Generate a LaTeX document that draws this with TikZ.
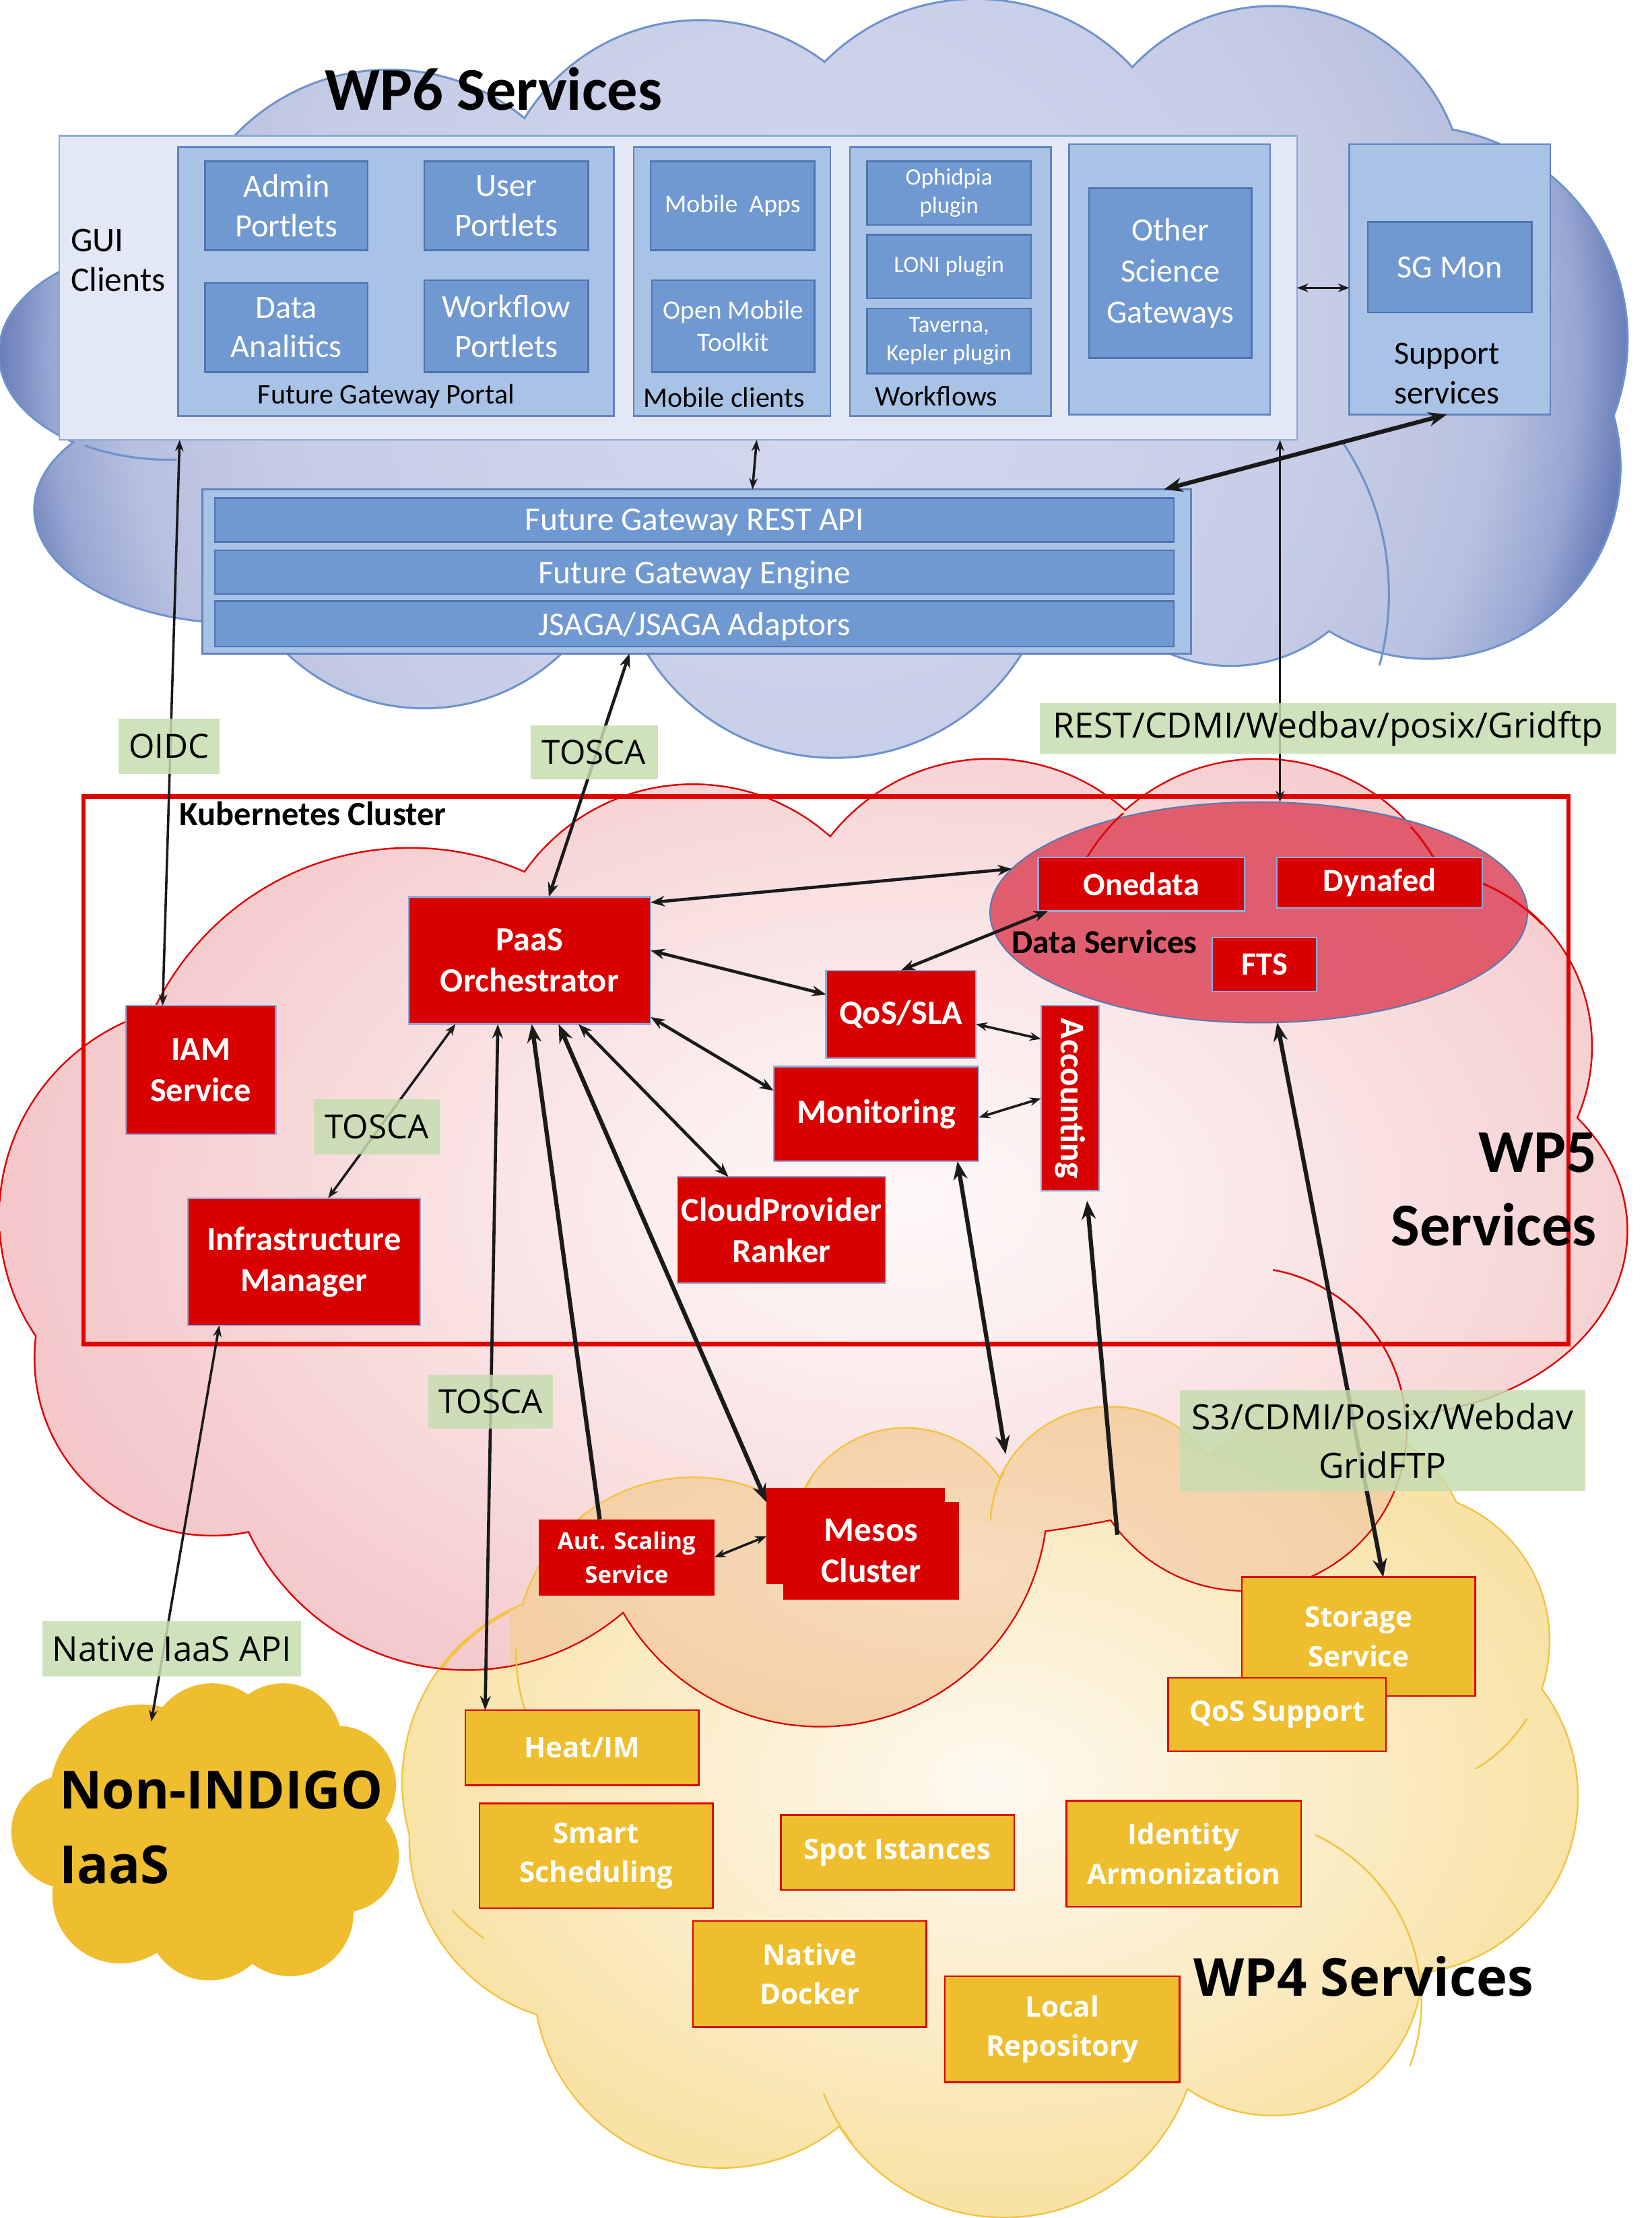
\documentclass[tikz,border=0pt]{standalone}
\usepackage{fontspec}
\setmainfont{Carlito}
\newfontfamily\osans{Open Sans}
\usetikzlibrary{arrows.meta,shapes.geometric}
\definecolor{bline}{HTML}{6E93CC}
\definecolor{bA}{HTML}{D4D9EE}
\definecolor{bB}{HTML}{C5CCE6}
\definecolor{bC}{HTML}{B7C0DF}
\definecolor{bD}{HTML}{98A6D2}
\definecolor{bE}{HTML}{6478B6}
\definecolor{bF}{HTML}{4B60A6}
\definecolor{guifill}{HTML}{E2E8F6}
\definecolor{guiline}{HTML}{8CA8D8}
\definecolor{contfill}{HTML}{A9C3E7}
\definecolor{contline}{HTML}{6283BC}
\definecolor{dfill}{HTML}{7099D1}
\definecolor{dline}{HTML}{4F74B0}
\definecolor{rfill}{HTML}{D90000}
\definecolor{rline}{HTML}{8FAADC}
\definecolor{yfill}{HTML}{EEBE2F}
\definecolor{yline}{HTML}{E00000}
\definecolor{gfill}{HTML}{C6DDB0}
\definecolor{kred}{HTML}{E00000}
\definecolor{pline}{HTML}{E00000}
\definecolor{pA}{HTML}{FEF8F8}
\definecolor{pB}{HTML}{FCEEEF}
\definecolor{pC}{HTML}{F8DCDD}
\definecolor{pD}{HTML}{F5CDCF}
\definecolor{pE}{HTML}{F3C3C6}
\definecolor{yA}{HTML}{FEFAF0}
\definecolor{yB}{HTML}{FCF1D6}
\definecolor{yC}{HTML}{FAE9BC}
\definecolor{yD}{HTML}{F8E2A6}
\definecolor{yE}{HTML}{F7DE9C}
\definecolor{ycl}{HTML}{F2C443}
\definecolor{orin}{HTML}{F7DCBE}
\definecolor{orout}{HTML}{F4CFA4}
\definecolor{nifill}{HTML}{EEBE2E}
\definecolor{dsfill}{HTML}{DF5366}
\definecolor{dsline}{HTML}{5A7AB0}
\definecolor{arrc}{HTML}{1A1A1A}
\pgfdeclareradialshading{bluesh}{\pgfpoint{0bp}{0bp}}{color(0bp)=(bA); color(14bp)=(bB); color(18bp)=(bC); color(20bp)=(bD); color(21.5bp)=(bE); color(50bp)=(bF)}
\pgfdeclareradialshading{pinksh}{\pgfpoint{0bp}{0bp}}{color(0bp)=(pA); color(6bp)=(pB); color(14bp)=(pC); color(20bp)=(pD); color(25bp)=(pE); color(50bp)=(pE)}
\pgfdeclareradialshading{yelsh}{\pgfpoint{0bp}{0bp}}{color(0bp)=(yA); color(8bp)=(yB); color(16bp)=(yC); color(22bp)=(yD); color(50bp)=(yE)}
\pgfdeclareradialshading{orsh}{\pgfpoint{0bp}{0bp}}{color(0bp)=(orin); color(25bp)=(orout); color(50bp)=(orout)}
\newcommand\fsz[2]{\fontsize{#1}{#2}\selectfont}
\newcommand\mkbox[7]{\node[#1,anchor=north west,minimum width=#5pt,minimum height=#6pt] (#2) at (#3,#4) {#7};}
\newcommand\inarc[8]{\begin{scope}\clip (#5,#6) rectangle (#7,#8); \draw[#1] (#2,#3) circle[radius=#4pt]; \end{scope}}
\def\bluecloud{(275,200) circle[radius=150pt] (495,160) circle[radius=145pt] (690,150) circle[radius=150pt] (900,140) circle[radius=135pt] (1000,240) circle[radius=150pt] (1010,330) circle[radius=135pt] (870,360) circle[radius=110pt] (590,380) circle[radius=155pt] (300,360) circle[radius=140pt] (170,360) circle[x radius=145pt, y radius=80pt] (120,250) circle[x radius=120pt, y radius=75pt] (600,280) circle[x radius=450pt, y radius=180pt]}
\def\pinkcloud{(290,800) circle[radius=200pt] (150,860) circle[radius=150pt] (490,700) circle[radius=145pt] (700,680) circle[radius=143pt] (891,680) circle[radius=143pt] (1000,740) circle[radius=125pt] (980,870) circle[x radius=170pt, y radius=130pt] (880,1010) circle[radius=114pt] (580,1060) circle[radius=160pt] (330,1010) circle[radius=170pt] (150,960) circle[radius=125pt] (620,860) circle[x radius=450pt, y radius=230pt]}
\def\yellowcloud{(490,1170) circle[radius=125pt] (640,1090) circle[radius=80pt] (785,1080) circle[radius=85pt] (930,1110) circle[radius=110pt] (990,1160) circle[radius=105pt] (990,1270) circle[radius=125pt] (900,1390) circle[radius=105pt] (710,1430) circle[radius=137pt] (510,1400) circle[radius=132pt] (420,1300) circle[radius=130pt] (420,1260) circle[radius=135pt] (700,1270) circle[x radius=330pt, y radius=200pt]}
\def\nicloud{(100,1270) circle[radius=65pt] (150,1235) circle[radius=45pt] (200,1232) circle[radius=42pt] (238,1262) circle[radius=42pt] (242,1312) circle[radius=40pt] (205,1352) circle[radius=45pt] (148,1355) circle[radius=45pt] (85,1340) circle[radius=48pt] (48,1295) circle[radius=40pt] (150,1295) circle[x radius=110pt, y radius=75pt]}
\tikzset{
  guibox/.style={draw=guiline, fill=guifill, line width=1.2pt},
  cont/.style={draw=contline, fill=contfill, line width=1.2pt},
  dbox/.style={draw=dline, fill=dfill, line width=1.2pt, text=white, align=center, font=\fsz{23}{28}},
  rbox/.style={draw=rline, fill=rfill, line width=1pt, text=white, align=center, font=\bfseries\fsz{24}{29}},
  rbox2/.style={fill=rfill, text=white, align=center, font=\bfseries\fsz{24.5}{29}},
  ybox/.style={draw=yline, fill=yfill, line width=1.2pt, text=white, align=center, font=\osans\bfseries\fsz{20}{28}},
  glab/.style={fill=gfill, fill opacity=0.85, text opacity=1, text=black, align=center, font=\osans\fsz{23.5}{34}},
  tipS/.tip={Stealth[length=8pt,width=6pt]},
  tipM/.tip={Stealth[length=10pt,width=7.5pt]},
  tipL/.tip={Stealth[length=13pt,width=10pt]},
  a1/.style={tipS-tipS, line width=1.7pt, draw=arrc},
  a2/.style={tipM-tipM, line width=2.2pt, draw=arrc},
  a3/.style={tipL-tipL, line width=3pt, draw=arrc},
  a3s/.style={-tipL, line width=3pt, draw=arrc},
  parc/.style={draw=pline, line width=1.2pt},
  yarc/.style={draw=ycl, line width=1.2pt},
  barc/.style={draw=bline, line width=1.5pt},
}
\begin{document}
\begin{tikzpicture}[x=1pt,y=-1pt, every node/.style={inner sep=0pt,outer sep=0pt}]
\useasboundingbox (0,0) rectangle (1168,1568);
\fill[white] (0,0) rectangle (1168,1568);
% ---- blue cloud (WP6)
\draw[bline, line width=3pt] \bluecloud;
\begin{scope}\clip \bluecloud; \shade[shading=bluesh] (-100,-400) rectangle (1250,900); \end{scope}
\inarc{barc}{790}{420}{192}{917}{311}{1000}{470}
\begin{scope}\clip (60,300) rectangle (125,330); \draw[barc] (120,250) circle[x radius=120pt, y radius=75pt]; \end{scope}
% ---- yellow cloud (WP4)
\draw[ycl, line width=2.4pt] \yellowcloud;
\begin{scope}\clip \yellowcloud; \shade[shading=yelsh] (220,930) rectangle (1180,1590); \end{scope}
% ---- pink cloud (WP5)
\draw[pline, line width=2.4pt] \pinkcloud;
\begin{scope}\clip \pinkcloud; \shade[shading=pinksh] (-60,400) rectangle (1340,1300); \end{scope}
% ---- overlap of WP5 and WP4
\begin{scope}
  \clip \pinkcloud;
  \draw[ycl, line width=2.4pt] \yellowcloud;
  \clip \yellowcloud;
  \shade[shading=orsh] (360,980) rectangle (1000,1240);
\end{scope}
\inarc{parc}{880}{1010}{114}{900}{880}{1000}{1000}
\inarc{yarc}{490}{1170}{125}{355}{1165}{385}{1215}
\inarc{yarc}{875}{1415}{130}{930}{1290}{1010}{1460}
\inarc{yarc}{710}{1430}{137}{580}{1480}{605}{1515}
\inarc{yarc}{420}{1260}{135}{320}{1340}{345}{1370}
\inarc{yarc}{990}{1160}{105}{1040}{1215}{1080}{1250}
\inarc{yarc}{785}{1080}{85}{700}{1040}{712}{1075}
\inarc{yarc}{640}{1090}{80}{560}{1045}{575}{1075}
% ---- non-INDIGO cloud
\fill[nifill] \nicloud;
% ---- GUI clients
\mkbox{guibox}{gui}{42}{96}{875}{215}{}
\node[font=\fsz{24.5}{28}, align=left, anchor=west] (guil) at (50,184) {GUI\\Clients};
\mkbox{cont}{fgp}{126}{104}{308}{190}{}
\mkbox{dbox}{adm}{145}{114}{115}{63}{Admin\\Portlets}
\mkbox{dbox}{usr}{300}{114}{116}{63}{User\\Portlets}
\mkbox{dbox}{dan}{145}{200}{115}{63}{Data\\Analitics}
\mkbox{dbox}{wfp}{300}{198}{116}{65}{Workflow\\Portlets}
\node[font=\fsz{20}{22}] (fgpl) at (273,280) {Future Gateway Portal};
\mkbox{cont}{mob}{448}{104}{139}{190}{}
\mkbox{dbox, font=\fsz{18}{22}}{mapp}{460}{114}{116}{63}{Mobile\ \ Apps}
\mkbox{dbox, font=\fsz{18.7}{23}}{omt}{461}{198}{115}{65}{Open Mobile\\Toolkit}
\node[font=\fsz{20}{22}] (mobl) at (512,281) {Mobile clients};
\mkbox{cont}{wfl}{601}{104}{142}{190}{}
\mkbox{dbox, font=\fsz{16.6}{20}}{oph}{613}{114}{116}{45}{Ophidpia\\plugin}
\mkbox{dbox, font=\fsz{16.6}{20}}{loni}{613}{166}{116}{45}{LONI plugin}
\mkbox{dbox, font=\fsz{16.6}{20}}{tav}{613}{218}{116}{46}{Taverna,\\Kepler plugin}
\node[font=\fsz{20}{22}] (wfll) at (662,280) {Workflows};
\mkbox{cont}{osg}{756}{102}{142}{191}{}
\mkbox{dbox, font=\fsz{23}{29}}{osgi}{770}{133}{115}{120}{Other\\Science\\Gateways}
\mkbox{cont}{sup}{954}{102}{142}{191}{}
\mkbox{dbox}{sgm}{967}{157}{116}{64}{SG Mon}
\node[font=\fsz{23}{28}, align=center] (supl) at (1023,264) {Support\\services};
% ---- future gateway stack
\mkbox{cont}{fg}{143}{346}{699}{116}{}
\mkbox{dbox, font=\fsz{23.5}{26}, text depth=0pt}{rest}{152}{352}{678}{31}{Future Gateway REST API}
\mkbox{dbox, font=\fsz{23.5}{26}, text depth=0pt}{eng}{152}{389}{678}{31}{Future Gateway Engine}
\mkbox{dbox, font=\fsz{23.5}{26}, text depth=0pt}{jsaga}{152}{425}{678}{32}{JSAGA/JSAGA Adaptors}
% ---- kubernetes
\node[draw=kred, line width=3.2pt, anchor=north west, minimum width=1050pt, minimum height=387pt] (kube) at (59,563) {};
\node[font=\bfseries\fsz{24}{26}, anchor=west] (kubel) at (127,575) {Kubernetes Cluster};
% ---- data services
\node[ellipse, draw=dsline, line width=1pt, fill=dsfill, fill opacity=0.92, minimum width=380pt, minimum height=156pt] (ds) at (890,645) {};
\inarc{parc}{891}{680}{143}{760}{575}{800}{612}
\inarc{parc}{891}{680}{143}{985}{585}{1025}{620}
\inarc{parc}{1000}{740}{125}{1040}{615}{1090}{700}
\node[font=\bfseries\fsz{23.6}{26}] (dsl) at (781,666) {Data Services};
% ---- red boxes
\mkbox{rbox}{paas}{289}{634}{171}{90}{PaaS\\Orchestrator}
\mkbox{rbox}{iam}{89}{711}{106}{91}{IAM\\Service}
\mkbox{rbox}{im}{133}{847}{164}{90}{Infrastructure\\Manager}
\mkbox{rbox}{qos}{584}{686}{106}{62}{QoS/SLA}
\mkbox{rbox}{mon}{547}{754}{145}{67}{Monitoring}
\mkbox{rbox}{cpr}{479}{832}{147}{75}{CloudProvider\\Ranker}
\mkbox{rbox}{acc}{736}{711}{41}{131}{}
\node[rotate=-90, text=white, font=\bfseries\fsz{24.4}{26}] (accl) at (acc.center) {Accounting};
\mkbox{rbox, font=\bfseries\fsz{23}{26}}{one}{734}{606}{146}{38}{Onedata}
\mkbox{rbox, font=\bfseries\fsz{23}{26}}{dyn}{903}{606}{145}{36}{Dynafed}
\mkbox{rbox, font=\bfseries\fsz{23}{26}}{fts}{857}{663}{74}{38}{FTS}
\mkbox{rbox2, font=\osans\bfseries\fsz{16.5}{24}}{aut}{381}{1074}{124}{54}{Aut. Scaling\\Service}
\mkbox{rbox2}{mesb}{542}{1052}{126}{68}{}
\mkbox{rbox2}{mesf}{554}{1062}{124}{69}{Mesos\\Cluster}
% ---- yellow boxes
\mkbox{ybox}{heat}{329}{1209}{165}{53}{Heat/IM}
\mkbox{ybox}{smart}{339}{1275}{165}{74}{Smart\\Scheduling}
\mkbox{ybox}{spot}{552}{1283}{165}{53}{Spot Istances}
\mkbox{ybox}{ida}{754}{1273}{166}{75}{Identity\\Armonization}
\mkbox{ybox}{ndock}{490}{1358}{165}{75}{Native\\Docker}
\mkbox{ybox}{lrep}{668}{1397}{166}{75}{Local\\Repository}
\mkbox{ybox}{sto}{878}{1115}{165}{84}{Storage\\Service}
\mkbox{ybox}{qsup}{826}{1186}{154}{52}{QoS Support}
% ---- free ends
\coordinate (m1) at (711,1028);
\coordinate (m2) at (790,1085);
\coordinate (ni) at (107,1217);
% ---- connectors
\draw[a1] ([xshift=85pt]gui.south west) -- ([xshift=-27pt]iam.north);
\draw[a1] ([xshift=493pt]gui.south west) -- ([xshift=389pt]fg.north west);
\draw[a3] ([xshift=-2pt]sup.south) -- ([xshift=-19pt]fg.north east);
\draw[a1] (gui.east) -- (gui.east -| sup.west);
\draw[a1] ([xshift=-12pt]gui.south east) -- ([xshift=-12pt]gui.south east |- ds.north);
\draw[a2] ([xshift=302pt]fg.south west) -- ([xshift=13.5pt]paas.north);
\draw[a2] ([yshift=-4pt]paas.north east) -- (ds.170);
\draw[a2] ([yshift=7pt]paas.east) -- ([yshift=14pt]qos.west);
\draw[a2] ([xshift=7pt]one.south west) -- (qos.north);
\draw[a2] ([yshift=5pt]paas.south east) -- ([yshift=-17pt]mon.north west);
\draw[a2] ([xshift=34.5pt]paas.south) -- ([xshift=36pt]cpr.north west);
\draw[a1] ([xshift=33pt]paas.south west) -- ([xshift=17pt]im.north);
\draw[a2] ([xshift=63pt]paas.south west) -- ([xshift=14pt]heat.north west);
\draw[a3s] ([xshift=-19pt]aut.north) -- ([xshift=1.5pt]paas.south);
\draw[a3] ([xshift=20.5pt]paas.south) -- ([yshift=-10pt]mesb.north west);
\draw[a1] ([yshift=-7pt]qos.east) -- ([yshift=42pt]acc.west);
\draw[a1] ([yshift=-2.5pt]mon.east) -- (acc.west);
\draw[a3] ([xshift=-15pt]mon.south east) -- (m1);
\draw[a3s, shorten >=7pt] (m2) -- ([xshift=11.5pt]acc.south);
\draw[a3] ([xshift=13pt]ds.south) -- ([xshift=17.5pt]sto.north);
\draw[a1] ([xshift=22pt]im.south west) -- (ni);
\draw[a1] (aut.east) -- (mesb.west);
% ---- green labels
\mkbox{glab}{loidc}{84}{508}{71}{39}{OIDC}
\mkbox{glab}{ltos1}{375}{513}{90}{38}{TOSCA}
\mkbox{glab, font=\osans\fsz{24.6}{34}}{lrest}{735}{497}{408}{36}{REST/CDMI/Wedbav/posix/Gridftp}
\mkbox{glab}{ltos2}{222}{777}{89}{39}{TOSCA}
\mkbox{glab}{ltos3}{303}{972}{88}{38}{TOSCA}
\mkbox{glab, font=\osans\fsz{24.6}{34}}{ls3}{834}{983}{287}{71}{S3/CDMI/Posix/Webdav\\GridFTP}
\mkbox{glab, font=\osans\fsz{24.3}{34}}{lnat}{30}{1146}{183}{39}{Native IaaS API}
% ---- titles
\node[font=\bfseries\fsz{43}{50}] (wp6) at (349,63) {WP6 Services};
\node[font=\bfseries\fsz{43}{52}, align=right, anchor=east] (wp5) at (1129,841) {WP5\\Services};
\node[font=\osans\bfseries\fsz{37}{44}] (wp4) at (964,1397) {WP4 Services};
\node[font=\osans\bfseries\fsz{37.2}{53}, align=left, anchor=west] (nit) at (42,1292) {Non-INDIGO\\IaaS};
\end{tikzpicture}
\end{document}
